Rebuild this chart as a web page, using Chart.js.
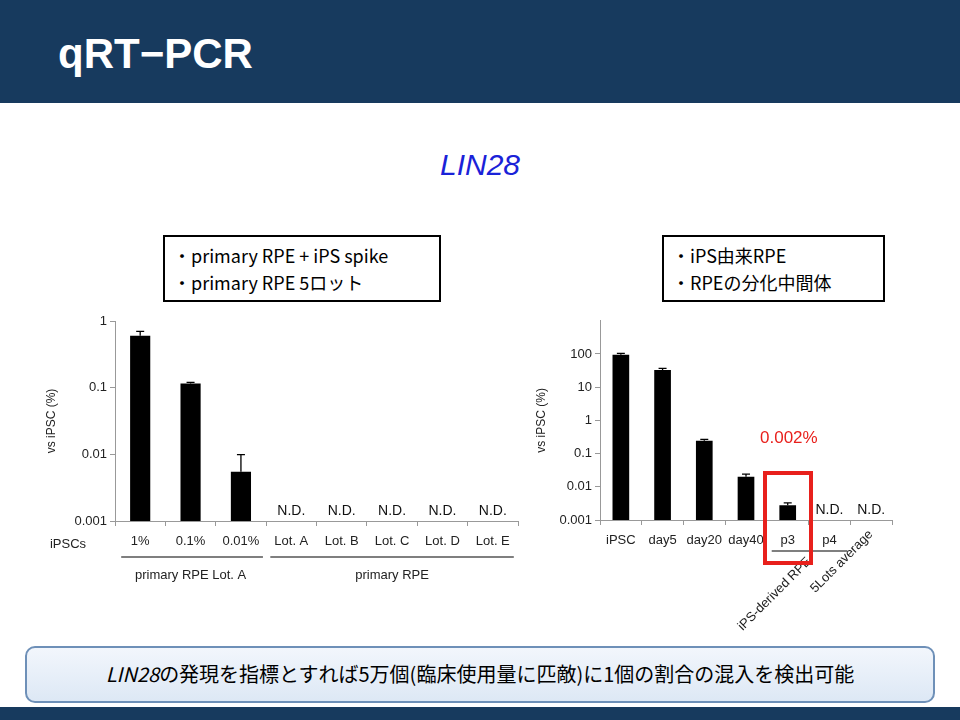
<!DOCTYPE html>
<html><head><meta charset="utf-8">
<script src="https://cdn.jsdelivr.net/npm/chart.js@4"></script>
<style>
body{margin:0;width:960px;height:720px;position:relative;background:#fff;font-family:"Liberation Sans",Arial,sans-serif;overflow:hidden}
.hdr{position:absolute;left:0;top:0;width:960px;height:103px;background:#173a5e}
.hdr span{position:absolute;left:58px;top:30px;color:#fff;font:bold 42px "Liberation Sans",Arial,sans-serif}
.foot{position:absolute;left:0;top:707px;width:960px;height:13px;background:#173a5e}
.ttl{position:absolute;left:0;width:960px;top:148px;text-align:center;font:italic 30px "Liberation Sans",Arial;color:#1a22d8}
.box{position:absolute;border:2px solid #000;font:18px "Noto Sans CJK JP";line-height:27px;padding:5px 8px;box-sizing:border-box}
.bot{position:absolute;left:25px;top:646px;width:910px;height:57px;border:2px solid #6e90b8;border-radius:10px;background:linear-gradient(#f2f6fc,#dde8f5);box-sizing:border-box;text-align:center;font:20px "Noto Sans CJK JP";line-height:51px}
canvas{position:absolute}
.red{position:absolute;left:763px;top:471px;width:50px;height:94px;border:4px solid #e8201c;box-sizing:border-box}
.rtxt{position:absolute;left:760px;top:428px;color:#e8201c;font:17px "Liberation Sans",Arial}
</style></head><body>
<div class="hdr"><span>qRT−PCR</span></div>
<div class="foot"></div>
<div class="ttl">LIN28</div>
<div class="box" style="left:163px;top:235px;width:278px;height:67px">・primary RPE + iPS spike<br>・primary RPE 5ロット</div>
<div class="box" style="left:662px;top:235px;width:223px;height:67px">・iPS由来RPE<br>・RPEの分化中間体</div>
<div id="w1" style="position:absolute;left:40px;top:310px;width:480px;height:290px"><canvas id="c1"></canvas></div>
<div id="w2" style="position:absolute;left:530px;top:310px;width:380px;height:330px"><canvas id="c2"></canvas></div>
<div class="red"></div>
<div class="rtxt">0.002%</div>
<div class="bot"><i>LIN28</i>の発現を指標とすれば5万個(臨床使用量に匹敵)に1個の割合の混入を検出可能</div>
<script>
const leftCats=["1%","0.1%","0.01%","Lot. A","Lot. B","Lot. C","Lot. D","Lot. E"];
const leftVals=[0.6,0.115,0.0055,null,null,null,null,null];
const leftErr=[0.7,0.12,0.0099,null,null,null,null,null];
const leftTicks=[1,0.1,0.01,0.001];
const rightCats=["iPSC","day5","day20","day40","p3","p4",""];
const rightVals=[95,33,0.245,0.02,0.0028,null,null];
const rightErr=[105,37,0.27,0.024,0.0033,null,null];
const rightTicks=[100,10,1,0.1,0.01,0.001];

const F='"Liberation Sans",Arial,sans-serif';
function extras(err,nd,fn){return{id:'ex',afterDatasetsDraw(ch){
  const c=ch.ctx,x=ch.scales.x,y=ch.scales.y,m=ch.getDatasetMeta(0);
  c.save();c.strokeStyle='#000';c.lineWidth=1.3;
  m.data.forEach((b,i)=>{if(err[i]==null)return;const yt=y.getPixelForValue(err[i]);
    c.beginPath();c.moveTo(b.x,b.y);c.lineTo(b.x,yt);c.moveTo(b.x-4,yt);c.lineTo(b.x+4,yt);c.stroke();});
  c.fillStyle='#111';c.font='14px '+F;c.textAlign='center';c.textBaseline='alphabetic';
  nd.forEach(i=>c.fillText('N.D.',x.getPixelForValue(i),y.bottom-6));
  fn(c,x,y);c.restore();}}}
function cfg(cats,vals,ticks,max,err,nd,fn,yw,xh,pad){return{type:'bar',
 data:{labels:cats,datasets:[{data:vals,backgroundColor:'#000',categoryPercentage:0.8,barPercentage:0.5}]},
 options:{animation:false,responsive:true,maintainAspectRatio:false,layout:{padding:pad},
  plugins:{legend:{display:false},tooltip:{enabled:false}},
  scales:{x:{grid:{offset:true,drawOnChartArea:false,tickLength:5,color:'#999'},border:{color:'#999'},
     ticks:{font:{size:13,family:F},color:'#222',padding:8,maxRotation:0,autoSkip:false},afterFit(s){s.height=xh}},
   y:{type:'logarithmic',min:0.001,max:max,afterBuildTicks(s){s.ticks=ticks.map(v=>({value:v}))},
     grid:{drawOnChartArea:false,tickLength:5,color:'#999'},border:{color:'#999'},
     ticks:{font:{size:13,family:F},color:'#222',callback:v=>String(v)},
     title:{display:true,text:'vs iPSC (%)',font:{size:12,family:F},color:'#222'},afterFit(s){s.width=yw}}}},
 plugins:[extras(err,nd,fn)]}}
new Chart(document.getElementById('c1'),cfg(leftCats,leftVals,leftTicks,1,leftErr,[3,4,5,6,7],(c,x,y)=>{
  c.font='13px '+F;c.textAlign='center';c.fillStyle='#222';
  c.fillText('iPSCs',x.left-47,y.bottom+27);
  c.strokeStyle='#000';c.lineWidth=1.2;c.beginPath();
  c.moveTo(x.getPixelForValue(0)-19,y.bottom+36);c.lineTo(x.getPixelForValue(2)+22,y.bottom+36);
  c.moveTo(x.getPixelForValue(3)-21,y.bottom+36);c.lineTo(x.getPixelForValue(7)+21,y.bottom+36);c.stroke();
  c.fillText('primary RPE Lot. A',(x.getPixelForValue(0)+x.getPixelForValue(2))/2,y.bottom+58);
  c.fillText('primary RPE',(x.getPixelForValue(3)+x.getPixelForValue(7))/2,y.bottom+58);
},75,79,{top:11,right:2}));
new Chart(document.getElementById('c2'),cfg(rightCats,rightVals,rightTicks,1000,rightErr,[5,6],(c,x,y)=>{
  c.font='13px '+F;c.fillStyle='#222';c.strokeStyle='#000';c.lineWidth=1.2;
  c.beginPath();c.moveTo(x.getPixelForValue(4)-16,y.bottom+31);c.lineTo(x.getPixelForValue(5)+18,y.bottom+31);c.stroke();
  c.textAlign='right';
  [[x.getPixelForValue(4)+24,y.bottom+42,'iPS-derived RPE'],[x.getPixelForValue(5)+44,y.bottom+15,'5Lots average']].forEach(([px,py,t])=>{
    c.save();c.translate(px,py);c.rotate(-Math.PI/4);c.fillText(t,0,0);c.restore();});
},70,120,{top:9,right:18}));
</script></body></html>
